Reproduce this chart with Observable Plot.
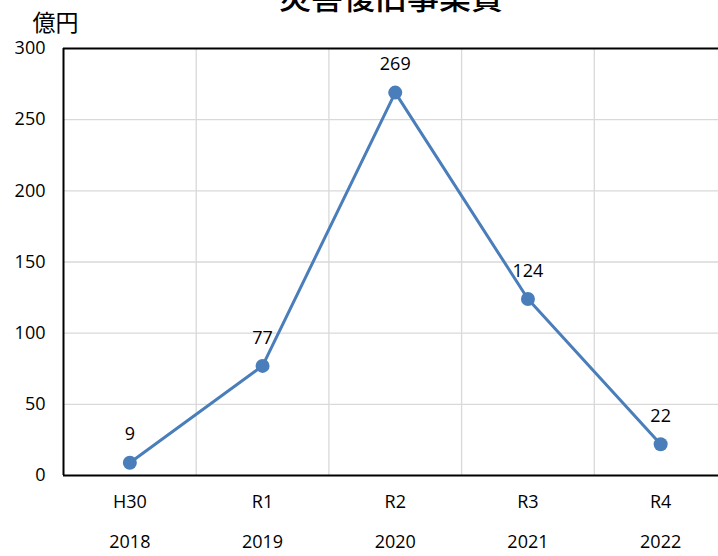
<!DOCTYPE html>
<html>
<head>
<meta charset="utf-8">
<script src="https://cdn.jsdelivr.net/npm/d3@7"></script>
<script src="https://cdn.jsdelivr.net/npm/@observablehq/plot@0.6"></script>
<style>
  html, body { margin: 0; padding: 0; background: #fff; overflow: hidden; }
  #chart svg { display: block; }
</style>
</head>
<body>
<div id="chart"></div>
<script>
const eras = ["H30", "R1", "R2", "R3", "R4"];
const years = ["2018", "2019", "2020", "2021", "2022"];
const values = [9, 77, 269, 124, 22];
const yTicks = [0, 50, 100, 150, 200, 250, 300];
const title = "災害復旧事業費";
const unit = "億円";

const data = values.map((v, i) => ({i, v}));
const boundaries = eras.map((_, i) => i - 0.5).concat([eras.length - 0.5]);
const latin = "'Open Sans', 'Noto Sans', sans-serif";
const cjk = "'Noto Sans CJK JP', sans-serif";
const blue = "#4a7ebb";

const plot = Plot.plot({
  width: 718,
  height: 556,
  marginTop: 48,
  marginBottom: 81,
  marginLeft: 63,
  marginRight: 0,
  style: {fontFamily: latin, fontSize: "18px", color: "#000", background: "#fff", overflow: "visible"},
  x: {domain: [-0.5, eras.length - 0.5], range: [63, 726.5], label: null},
  y: {domain: [0, 300], label: null},
  marks: [
    Plot.gridY(yTicks.filter(d => d > 0 && d < 300), {stroke: "#d9d9d9", strokeOpacity: 1, strokeWidth: 1.3}),
    Plot.ruleX(boundaries.slice(1), {stroke: "#d9d9d9", strokeWidth: 1.3}),
    Plot.ruleY([0, 300], {stroke: "#000", strokeWidth: 2}),
    Plot.ruleX([-0.5], {stroke: "#000", strokeWidth: 2}),
    Plot.axisY(yTicks, {tickSize: 0, tickPadding: 18, fontSize: 18, fontFamily: latin, label: null}),
    Plot.axisX(d3.range(eras.length), {tickSize: 0, tickPadding: 20, tickFormat: i => eras[i], fontSize: 18, fontFamily: latin, label: null}),
    Plot.axisX(d3.range(eras.length), {tickSize: 0, tickPadding: 60, tickFormat: i => years[i], fontSize: 18, fontFamily: latin, label: null}),
    Plot.line(data, {x: "i", y: "v", stroke: blue, strokeWidth: 3}),
    Plot.dot(data, {x: "i", y: "v", fill: blue, r: 7}),
    Plot.text(data, {x: "i", y: "v", text: d => String(d.v), dy: -28, lineAnchor: "middle", fontSize: 18, fontFamily: latin, fill: "#000"}),
    Plot.text([title], {frameAnchor: "top", dy: -50, lineAnchor: "middle", fontSize: 32, fontWeight: 500, fontFamily: cjk, fill: "#000"}),
    Plot.text([unit], {frameAnchor: "top-left", dx: -8, dy: -25, textAnchor: "middle", lineAnchor: "middle", fontSize: 23, fontFamily: cjk, fill: "#000"})
  ]
});
document.getElementById("chart").appendChild(plot);
</script>
</body>
</html>
